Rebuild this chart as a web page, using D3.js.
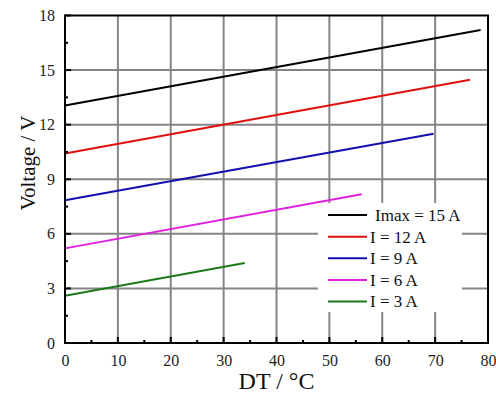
<!DOCTYPE html>
<html><head><meta charset="utf-8">
<script src="https://cdn.jsdelivr.net/npm/d3@7"></script>
<style>body{margin:0;background:#fff}svg{display:block}svg text{font-family:"Liberation Serif","Times New Roman",Times,serif !important}</style>
</head><body>
<svg id="c" width="496" height="396"></svg>
<script>
const seriesNames = ["Imax = 15 A", "I = 12 A", "I = 9 A", "I = 6 A", "I = 3 A"];
const seriesColors = ["#000000", "#e01010", "#1010b0", "#e020e0", "#1a7a1a"];
const seriesDT = [[0, 78.6], [0, 76.6], [0, 69.7], [0, 56.1], [0, 34.0]];
const seriesV = [[13.05, 17.2], [10.42, 14.47], [7.85, 11.5], [5.2, 8.17], [2.6, 4.4]];
const xTicks = [0, 10, 20, 30, 40, 50, 60, 70, 80];
const yTicks = [0, 3, 6, 9, 12, 15, 18];
const xMinor = [5, 15, 25, 35, 45, 55, 65, 75];
const yMinor = [1.5, 4.5, 7.5, 10.5, 13.5, 16.5];

const svg = d3.select("#c");
const L = 65, R = 488, T = 15.5, B = 343;
const x = d3.scaleLinear().domain([0, 80]).range([L, R]);
const y = d3.scaleLinear().domain([0, 18]).range([B, T]);
const font = '"Liberation Serif", "Times New Roman", serif';

// grid
svg.append("g").selectAll("line").data(xTicks.slice(1, -1)).join("line")
  .attr("x1", d => x(d)).attr("x2", d => x(d)).attr("y1", T).attr("y2", B)
  .attr("stroke", "#858585").attr("stroke-width", 2);
svg.append("g").selectAll("line").data(yTicks.slice(1, -1)).join("line")
  .attr("y1", d => y(d)).attr("y2", d => y(d)).attr("x1", L).attr("x2", R)
  .attr("stroke", "#858585").attr("stroke-width", 2);

// series
const line = d3.line().x(d => x(d[0])).y(d => y(d[1]));
seriesNames.forEach((n, i) => {
  const pts = seriesDT[i].map((dt, j) => [dt, seriesV[i][j]]);
  svg.append("path").attr("d", line(pts)).attr("fill", "none")
    .attr("stroke", seriesColors[i]).attr("stroke-width", 2);
});

// legend
const lg = svg.append("g");
lg.append("rect").attr("x", 318).attr("y", 203).attr("width", 144).attr("height", 109).attr("fill", "#fff");
const rowY = d3.scaleLinear().domain([0, 4]).range([215, 301.5]);
seriesNames.forEach((n, i) => {
  lg.append("line").attr("x1", 328).attr("x2", 367).attr("y1", rowY(i)).attr("y2", rowY(i))
    .attr("stroke", seriesColors[i]).attr("stroke-width", 2);
  lg.append("text").attr("x", i === 0 ? 375 : 370).attr("y", rowY(i)).attr("dy", "0.35em")
    .style("font-family", font).attr("font-size", 17).attr("fill", "#111").text(n);
});

// axes
const xAxisB = d3.axisBottom(x).tickValues(xTicks).tickSize(0).tickPadding(12);
const gx = svg.append("g").attr("transform", `translate(0,${B})`).call(xAxisB);
gx.attr("font-family", null);
gx.select(".domain").remove();
gx.selectAll("text").style("font-family", font).attr("font-size", 16).attr("fill", "#222");
const yAxisL = d3.axisLeft(y).tickValues(yTicks).tickSize(0).tickPadding(10);
const gy = svg.append("g").attr("transform", `translate(${L},0)`).call(yAxisL);
gy.attr("font-family", null);
gy.select(".domain").remove();
gy.selectAll("text").style("font-family", font).attr("font-size", 16).attr("fill", "#222");

// minor & major ticks inside
svg.append("g").selectAll("line").data(xMinor).join("line")
  .attr("x1", d => x(d)).attr("x2", d => x(d)).attr("y1", B).attr("y2", B - 3)
  .attr("stroke", "#000").attr("stroke-width", 2);
svg.append("g").selectAll("line").data(xTicks).join("line")
  .attr("x1", d => x(d)).attr("x2", d => x(d)).attr("y1", B).attr("y2", B - 6)
  .attr("stroke", "#000").attr("stroke-width", 2);
svg.append("g").selectAll("line").data(yMinor).join("line")
  .attr("y1", d => y(d)).attr("y2", d => y(d)).attr("x1", L).attr("x2", L + 3)
  .attr("stroke", "#000").attr("stroke-width", 2);
svg.append("g").selectAll("line").data(yTicks).join("line")
  .attr("y1", d => y(d)).attr("y2", d => y(d)).attr("x1", L).attr("x2", L + 6)
  .attr("stroke", "#000").attr("stroke-width", 2);

// frame
svg.append("rect").attr("x", L).attr("y", T).attr("width", R - L).attr("height", B - T)
  .attr("fill", "none").attr("stroke", "#000").attr("stroke-width", 2);

// titles
svg.append("text").attr("x", (L + R) / 2).attr("y", 389).attr("text-anchor", "middle")
  .style("font-family", font).attr("font-size", 24).attr("fill", "#111").text("DT / °C");
svg.append("text").attr("transform", "translate(35,163) rotate(-90)").attr("text-anchor", "middle")
  .style("font-family", font).attr("font-size", 21).attr("fill", "#111").text("Voltage / V");
</script>
</body></html>
